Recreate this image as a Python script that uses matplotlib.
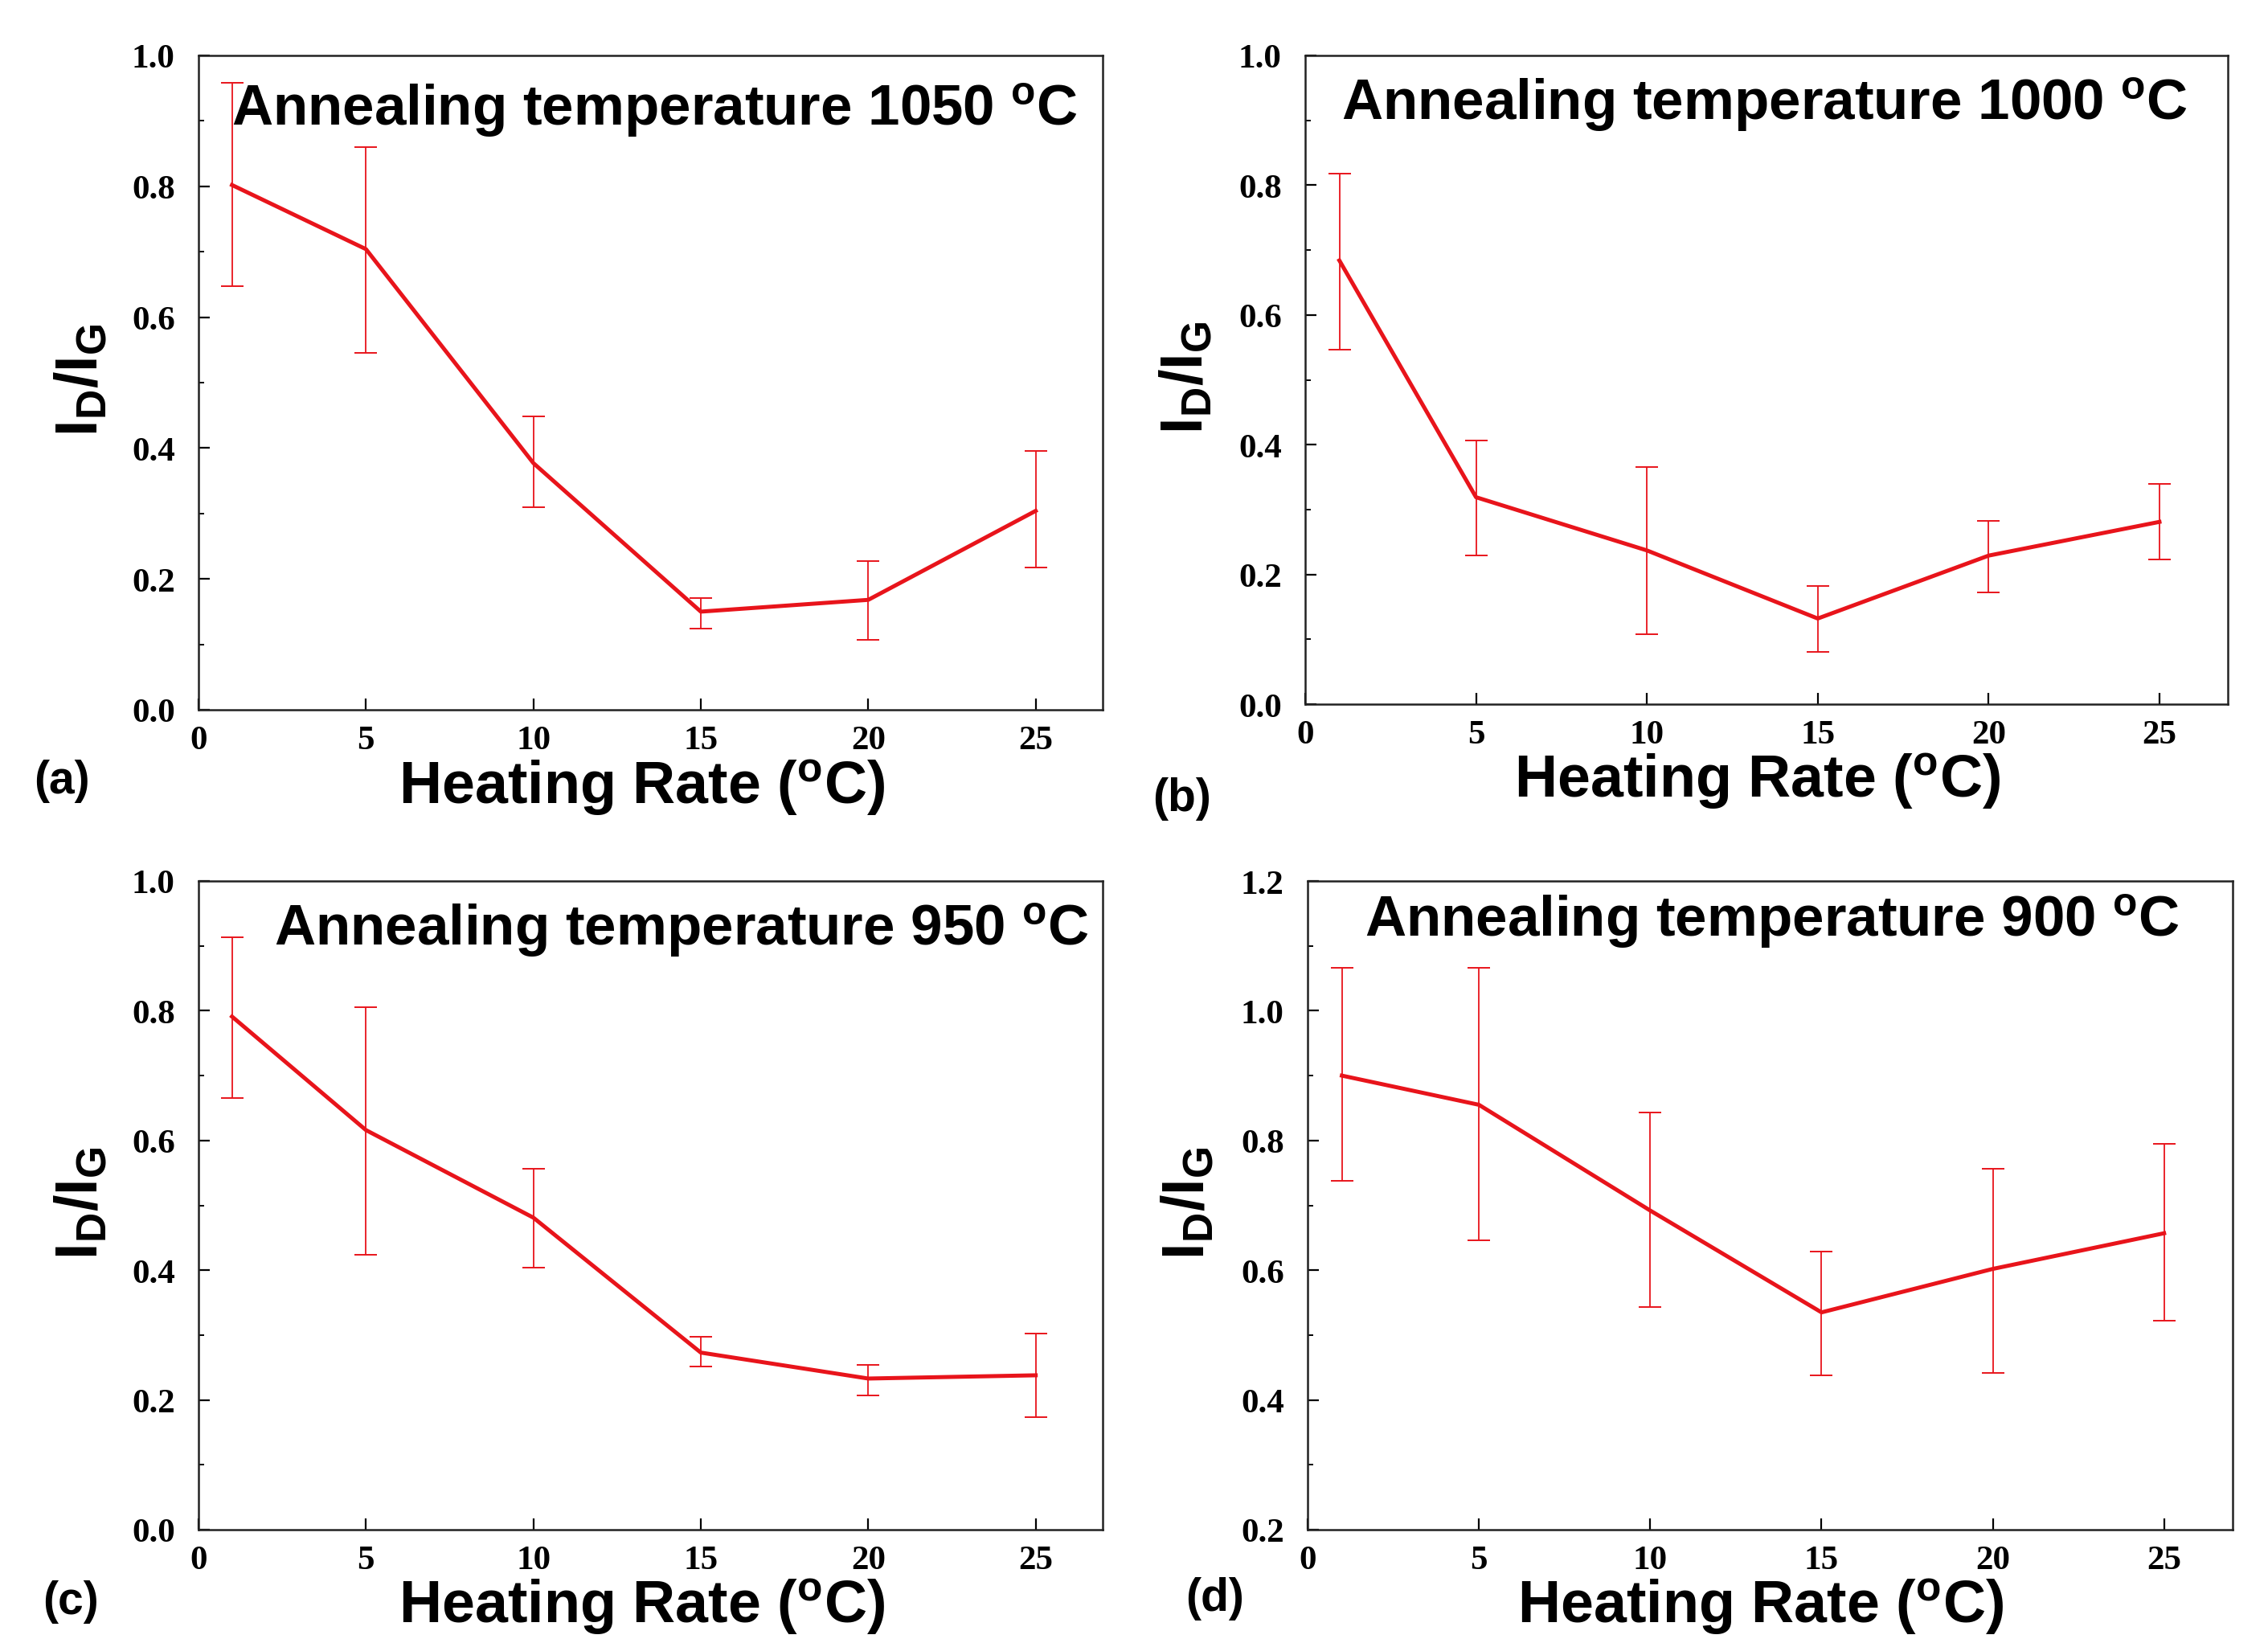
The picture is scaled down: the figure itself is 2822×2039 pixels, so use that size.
#!/usr/bin/env python3
"""
I_D/I_G ratio vs heating rate for four annealing temperatures (2x2 panels).
"""

import matplotlib
matplotlib.use("Agg")
import matplotlib.pyplot as plt
from matplotlib.ticker import MultipleLocator

# heating rates (same for all panels)
heating_rate = [1, 5, 10, 15, 20, 25]

# (a) 1050 C
ratio_1050 = [0.802, 0.704, 0.377, 0.150, 0.168, 0.304]
upper_1050 = [0.958, 0.860, 0.448, 0.171, 0.227, 0.395]
lower_1050 = [0.647, 0.545, 0.309, 0.124, 0.107, 0.218]

# (b) 1000 C
ratio_1000 = [0.684, 0.319, 0.237, 0.132, 0.229, 0.281]
upper_1000 = [0.818, 0.407, 0.366, 0.182, 0.283, 0.340]
lower_1000 = [0.547, 0.229, 0.108, 0.080, 0.172, 0.223]

# (c) 950 C
ratio_950 = [0.791, 0.616, 0.481, 0.273, 0.233, 0.238]
upper_950 = [0.913, 0.805, 0.557, 0.298, 0.254, 0.302]
lower_950 = [0.665, 0.424, 0.404, 0.252, 0.207, 0.174]

# (d) 900 C
ratio_900 = [0.900, 0.855, 0.692, 0.535, 0.602, 0.657]
upper_900 = [1.066, 1.066, 0.843, 0.629, 0.757, 0.795]
lower_900 = [0.738, 0.646, 0.543, 0.438, 0.442, 0.522]

temperatures = [1050, 1000, 950, 900]
panel_tags = ["(a)", "(b)", "(c)", "(d)"]
y_limits = [(0.0, 1.0), (0.0, 1.0), (0.0, 1.0), (0.2, 1.2)]

RED = "#e8141b"

plt.rcParams["mathtext.fontset"] = "custom"
plt.rcParams["mathtext.rm"] = "Liberation Sans:bold"
plt.rcParams["mathtext.bf"] = "Liberation Sans:bold"
plt.rcParams["mathtext.it"] = "Liberation Sans:bold"


def draw_panel(ax, y, lo, hi, temp, ylim, title_pos, tag, tag_pos, fig):
    yerr = [[v - l for v, l in zip(y, lo)], [h - v for v, h in zip(y, hi)]]
    ax.errorbar(heating_rate, y, yerr=yerr, color=RED, lw=3.6, elinewidth=1.3,
                capsize=10, capthick=1.4, zorder=3)
    ax.set_xlim(0, 27)
    ax.set_ylim(*ylim)
    ax.xaxis.set_major_locator(MultipleLocator(5))
    ax.yaxis.set_major_locator(MultipleLocator(0.2))
    ax.yaxis.set_minor_locator(MultipleLocator(0.1))
    ax.tick_params(axis="both", which="major", direction="in", length=10, width=1.6,
                   top=False, right=False)
    ax.tick_params(axis="y", which="minor", direction="in", length=5, width=1.4, right=False)
    ax.tick_params(axis="x", which="both", pad=14)
    ax.tick_params(axis="y", which="both", pad=21)
    for lab in ax.get_xticklabels() + ax.get_yticklabels():
        lab.set_fontfamily("Liberation Serif")
        lab.set_fontweight("bold")
        lab.set_fontsize(31)
    for sp in ax.spines.values():
        sp.set_linewidth(1.8)
        sp.set_color("#222222")

    ax.set_xlabel(r"Heating Rate ($^{\mathbf{o}}$C)", fontsize=53, fontweight="bold",
                  family="Liberation Sans")
    ax.xaxis.set_label_coords(0.49, -0.072)
    ax.set_ylabel(r"$\mathbf{I_D/I_G}$", fontsize=53)
    ax.yaxis.set_label_coords(-0.098, 0.505)

    ax.text(title_pos[0], title_pos[1], r"Annealing temperature %d $^{\mathbf{o}}$C" % temp,
            transform=ax.transAxes, ha="center", va="center", fontsize=51,
            fontweight="bold", family="Liberation Sans")
    fig.text(tag_pos[0], tag_pos[1], tag, ha="center", va="center", fontsize=41,
             fontweight="bold", family="Liberation Sans")


def main():
    W, H = 2822, 2040
    fig = plt.figure(figsize=(W / 100, H / 100), dpi=100)

    boxes = [
        [247 / W, 1 - 884 / H, 1125 / W, 814 / H],
        [1624 / W, 1 - 877 / H, 1148 / W, 807 / H],
        [247 / W, 1 - 1904 / H, 1125 / W, 807 / H],
        [1627 / W, 1 - 1904 / H, 1151 / W, 807 / H],
    ]
    series = [
        (ratio_1050, lower_1050, upper_1050),
        (ratio_1000, lower_1000, upper_1000),
        (ratio_950, lower_950, upper_950),
        (ratio_900, lower_900, upper_900),
    ]
    title_pos = [(0.504, 0.917), (0.498, 0.924), (0.534, 0.924), (0.502, 0.938)]
    tag_pos = [(77 / W, 1 - 972 / H), (1471 / W, 1 - 994 / H),
               (88 / W, 1 - 1993 / H), (1512 / W, 1 - 1989 / H)]

    for i, box in enumerate(boxes):
        ax = fig.add_axes(box)
        y, lo, hi = series[i]
        draw_panel(ax, y, lo, hi, temperatures[i], y_limits[i], title_pos[i],
                   panel_tags[i], tag_pos[i], fig)

    fig.savefig("out.png", dpi=100, facecolor="white")
    plt.close(fig)


if __name__ == "__main__":
    main()
